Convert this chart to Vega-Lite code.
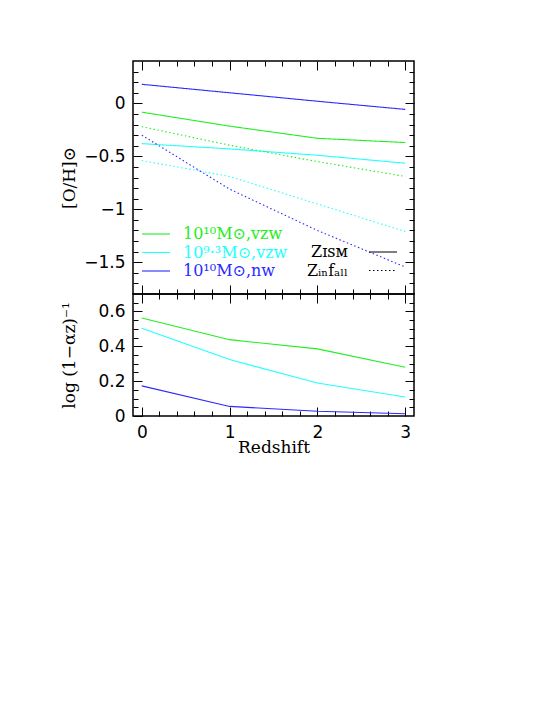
{
  "$schema": "https://vega.github.io/schema/vega-lite/v6.json",
  "padding": {"left": 59, "top": 59, "right": 5, "bottom": 5},
  "background": "white",
  "spacing": 0,
  "bounds": "flush",
  "datasets": {
    "metal": [
      {"model": "10¹⁰M⊙,vzw", "kind": "ISM", "z": 0, "oh": -0.083},
      {"model": "10¹⁰M⊙,vzw", "kind": "ISM", "z": 1, "oh": -0.215},
      {"model": "10¹⁰M⊙,vzw", "kind": "ISM", "z": 2, "oh": -0.33},
      {"model": "10¹⁰M⊙,vzw", "kind": "ISM", "z": 3, "oh": -0.37},
      {"model": "10⁹·³M⊙,vzw", "kind": "ISM", "z": 0, "oh": -0.38},
      {"model": "10⁹·³M⊙,vzw", "kind": "ISM", "z": 1, "oh": -0.43},
      {"model": "10⁹·³M⊙,vzw", "kind": "ISM", "z": 2, "oh": -0.49},
      {"model": "10⁹·³M⊙,vzw", "kind": "ISM", "z": 3, "oh": -0.565},
      {"model": "10¹⁰M⊙,nw", "kind": "ISM", "z": 0, "oh": 0.18},
      {"model": "10¹⁰M⊙,nw", "kind": "ISM", "z": 1, "oh": 0.10},
      {"model": "10¹⁰M⊙,nw", "kind": "ISM", "z": 2, "oh": 0.02},
      {"model": "10¹⁰M⊙,nw", "kind": "ISM", "z": 3, "oh": -0.057},
      {"model": "10¹⁰M⊙,vzw", "kind": "infall", "z": 0, "oh": -0.22},
      {"model": "10¹⁰M⊙,vzw", "kind": "infall", "z": 1, "oh": -0.395},
      {"model": "10¹⁰M⊙,vzw", "kind": "infall", "z": 2, "oh": -0.55},
      {"model": "10¹⁰M⊙,vzw", "kind": "infall", "z": 3, "oh": -0.69},
      {"model": "10⁹·³M⊙,vzw", "kind": "infall", "z": 0, "oh": -0.54},
      {"model": "10⁹·³M⊙,vzw", "kind": "infall", "z": 1, "oh": -0.69},
      {"model": "10⁹·³M⊙,vzw", "kind": "infall", "z": 2, "oh": -0.95},
      {"model": "10⁹·³M⊙,vzw", "kind": "infall", "z": 3, "oh": -1.21},
      {"model": "10¹⁰M⊙,nw", "kind": "infall", "z": 0, "oh": -0.30},
      {"model": "10¹⁰M⊙,nw", "kind": "infall", "z": 1, "oh": -0.81},
      {"model": "10¹⁰M⊙,nw", "kind": "infall", "z": 2, "oh": -1.20},
      {"model": "10¹⁰M⊙,nw", "kind": "infall", "z": 3, "oh": -1.545}
    ],
    "alpha": [
      {"model": "10¹⁰M⊙,vzw", "z": 0, "v": 0.562},
      {"model": "10¹⁰M⊙,vzw", "z": 1, "v": 0.438},
      {"model": "10¹⁰M⊙,vzw", "z": 2, "v": 0.385},
      {"model": "10¹⁰M⊙,vzw", "z": 3, "v": 0.28},
      {"model": "10⁹·³M⊙,vzw", "z": 0, "v": 0.503},
      {"model": "10⁹·³M⊙,vzw", "z": 1, "v": 0.324},
      {"model": "10⁹·³M⊙,vzw", "z": 2, "v": 0.189},
      {"model": "10⁹·³M⊙,vzw", "z": 3, "v": 0.109},
      {"model": "10¹⁰M⊙,nw", "z": 0, "v": 0.173},
      {"model": "10¹⁰M⊙,nw", "z": 1, "v": 0.055},
      {"model": "10¹⁰M⊙,nw", "z": 2, "v": 0.027},
      {"model": "10¹⁰M⊙,nw", "z": 3, "v": 0.013}
    ]
  },
  "vconcat": [
    {
      "width": 281,
      "height": 233,
      "data": {"name": "metal"},
      "layer": [
        {
          "mark": {"type": "line", "strokeWidth": 1.1},
          "encoding": {
            "x": {
              "field": "z", "type": "quantitative",
              "scale": {"domain": [-0.1, 3.1], "nice": false, "zero": false},
              "axis": {
                "orient": "bottom", "title": null, "labels": false,
                "values": [0, 0.2, 0.4, 0.6, 0.8, 1, 1.2, 1.4, 1.6, 1.8, 2, 2.2, 2.4, 2.6, 2.8, 3],
                "tickSize": {"condition": {"test": "abs(datum.value-round(datum.value))<1e-6", "value": -9}, "value": -5}
              }
            },
            "y": {
              "field": "oh", "type": "quantitative",
              "scale": {"domain": [-1.8, 0.4], "nice": false, "zero": false},
              "axis": {
                "orient": "left", "title": "[O/H]⊙", "titlePadding": 5, "labelPadding": 17,
                "values": [-1.7, -1.6, -1.5, -1.4, -1.3, -1.2, -1.1, -1, -0.9, -0.8, -0.7, -0.6, -0.5, -0.4, -0.3, -0.2, -0.1, 0, 0.1, 0.2, 0.3],
                "labelExpr": "abs(datum.value*2-round(datum.value*2))<1e-6 ? format(datum.value, '~g') : ''",
                "tickSize": {"condition": {"test": "abs(datum.value*2-round(datum.value*2))<1e-6", "value": -9}, "value": -5}
              }
            },
            "color": {
              "field": "model", "type": "nominal",
              "scale": {"domain": ["10¹⁰M⊙,vzw", "10⁹·³M⊙,vzw", "10¹⁰M⊙,nw"], "range": ["#22ee22", "#22ffff", "#2a2aff"]},
              "legend": {
                "orient": "bottom-left", "offset": 15, "title": null,
                "symbolType": "M-2,0H2", "symbolSize": 196, "symbolStrokeWidth": 1.1,
                "labelFont": "DejaVu Serif", "labelFontSize": 16, "labelOffset": 19, "rowPadding": 2.5,
                "encode": {"labels": {"update": {"fill": {"scale": "color", "field": "value"}}}}
              }
            },
            "strokeDash": {
              "field": "kind", "type": "nominal",
              "scale": {"domain": ["ISM", "infall"], "range": [[1, 0], [1.5, 2.5]]},
              "legend": {
                "orient": "bottom-right", "offset": 15, "title": null,
                "symbolType": "M-2,0H2", "symbolSize": 196, "symbolStrokeColor": "black", "symbolStrokeWidth": 1,
                "labelAlign": "right", "labelOffset": -43,
                "labelExpr": "datum.label == 'ISM' ? 'Zɪꜱᴍ' : 'Zᵢₙfₐₗₗ'",
                "labelFont": "DejaVu Serif", "labelFontSize": 16, "labelColor": "black", "rowPadding": 2.5
              }
            }
          }
        },
        {
          "mark": {"type": "point", "opacity": 0},
          "encoding": {
            "x": {
              "field": "z", "type": "quantitative",
              "axis": {
                "orient": "top", "title": null, "labels": false,
                "values": [0, 0.2, 0.4, 0.6, 0.8, 1, 1.2, 1.4, 1.6, 1.8, 2, 2.2, 2.4, 2.6, 2.8, 3],
                "tickSize": {"condition": {"test": "abs(datum.value-round(datum.value))<1e-6", "value": -9}, "value": -5}
              }
            },
            "y": {
              "field": "oh", "type": "quantitative",
              "axis": {
                "orient": "right", "title": null, "labels": false,
                "values": [-1.7, -1.6, -1.5, -1.4, -1.3, -1.2, -1.1, -1, -0.9, -0.8, -0.7, -0.6, -0.5, -0.4, -0.3, -0.2, -0.1, 0, 0.1, 0.2, 0.3],
                "tickSize": {"condition": {"test": "abs(datum.value*2-round(datum.value*2))<1e-6", "value": -9}, "value": -5}
              }
            }
          }
        }
      ],
      "resolve": {"axis": {"x": "independent", "y": "independent"}}
    },
    {
      "width": 281,
      "height": 122,
      "data": {"name": "alpha"},
      "layer": [
        {
          "mark": {"type": "line", "strokeWidth": 1.1},
          "encoding": {
            "x": {
              "field": "z", "type": "quantitative",
              "scale": {"domain": [-0.1, 3.1], "nice": false, "zero": false},
              "axis": {
                "orient": "bottom", "title": "Redshift", "titlePadding": -5, "labelPadding": 17,
                "values": [0, 0.2, 0.4, 0.6, 0.8, 1, 1.2, 1.4, 1.6, 1.8, 2, 2.2, 2.4, 2.6, 2.8, 3],
                "labelExpr": "abs(datum.value-round(datum.value))<1e-6 ? format(datum.value, '~g') : ''",
                "tickSize": {"condition": {"test": "abs(datum.value-round(datum.value))<1e-6", "value": -9}, "value": -5}
              }
            },
            "y": {
              "field": "v", "type": "quantitative",
              "scale": {"domain": [0, 0.7], "nice": false},
              "axis": {
                "orient": "left", "title": "log (1−αz)⁻¹", "titlePadding": 19, "labelPadding": 17,
                "values": [0, 0.05, 0.1, 0.15, 0.2, 0.25, 0.3, 0.35, 0.4, 0.45, 0.5, 0.55, 0.6, 0.65],
                "labelExpr": "abs(datum.value*5-round(datum.value*5))<1e-6 ? format(datum.value, '~g') : ''",
                "tickSize": {"condition": {"test": "abs(datum.value*5-round(datum.value*5))<1e-6", "value": -9}, "value": -5}
              }
            },
            "color": {
              "field": "model", "type": "nominal",
              "scale": {"domain": ["10¹⁰M⊙,vzw", "10⁹·³M⊙,vzw", "10¹⁰M⊙,nw"], "range": ["#22ee22", "#22ffff", "#2a2aff"]},
              "legend": null
            }
          }
        },
        {
          "mark": {"type": "point", "opacity": 0},
          "encoding": {
            "x": {
              "field": "z", "type": "quantitative",
              "axis": {
                "orient": "top", "title": null, "labels": false,
                "values": [0, 0.2, 0.4, 0.6, 0.8, 1, 1.2, 1.4, 1.6, 1.8, 2, 2.2, 2.4, 2.6, 2.8, 3],
                "tickSize": {"condition": {"test": "abs(datum.value-round(datum.value))<1e-6", "value": -9}, "value": -5}
              }
            },
            "y": {
              "field": "v", "type": "quantitative",
              "axis": {
                "orient": "right", "title": null, "labels": false,
                "values": [0.05, 0.1, 0.15, 0.2, 0.25, 0.3, 0.35, 0.4, 0.45, 0.5, 0.55, 0.6, 0.65],
                "tickSize": {"condition": {"test": "abs(datum.value*5-round(datum.value*5))<1e-6", "value": -9}, "value": -5}
              }
            }
          }
        }
      ],
      "resolve": {"axis": {"x": "independent", "y": "independent"}}
    }
  ],
  "resolve": {"legend": {"color": "independent", "strokeDash": "independent"}},
  "config": {
    "view": {"stroke": "black", "strokeWidth": 1.5},
    "axis": {
      "domain": false, "grid": false, "tickColor": "black", "tickWidth": 1,
      "labelColor": "black", "labelFont": "DejaVu Sans", "labelFontSize": 17,
      "titleFont": "DejaVu Serif", "titleFontSize": 17, "titleFontWeight": "normal", "titleColor": "black",
      "labelOverlap": false, "labelFlush": false
    }
  }
}
